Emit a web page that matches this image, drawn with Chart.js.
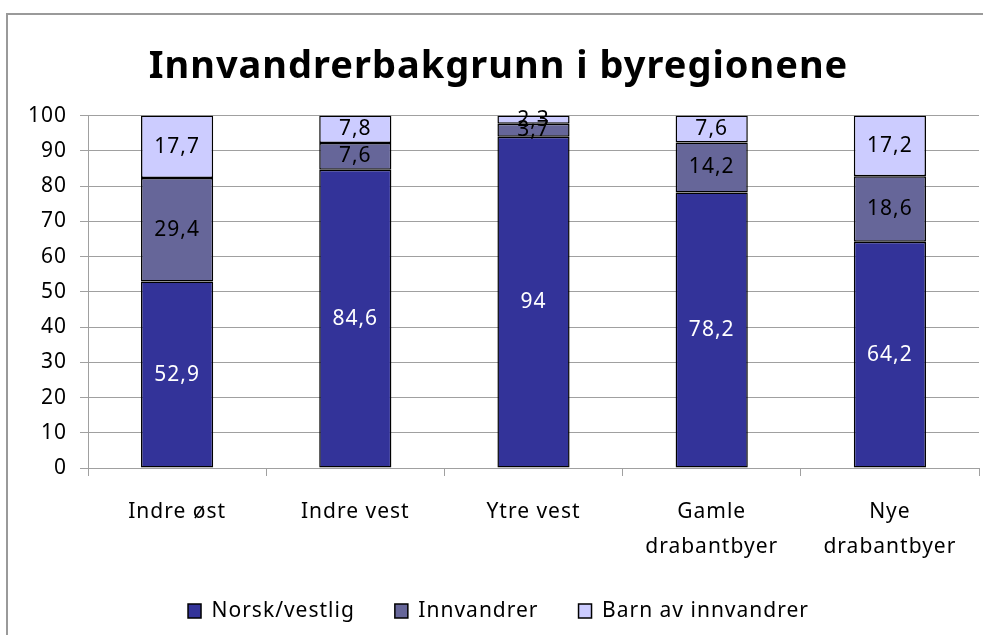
<!DOCTYPE html>
<html>
<head>
<meta charset="utf-8">
<script src="https://cdn.jsdelivr.net/npm/chart.js@4/dist/chart.umd.min.js"></script>
<style>
  html, body { margin: 0; padding: 0; background: #fff; overflow: hidden; }
  #frame { position: absolute; left: 6px; top: 13px; width: 1200px; height: 900px; border: 2px solid #9a9a9a; }
  #wrap { position: absolute; left: 0; top: 0; width: 983px; height: 635px; }
</style>
</head>
<body>
<div id="frame"></div>
<div id="wrap"><canvas id="chart" width="983" height="635"></canvas></div>
<script>
// data
const regions = [['Indre øst'], ['Indre vest'], ['Ytre vest'], ['Gamle', 'drabantbyer'], ['Nye', 'drabantbyer']];
const norsk      = [52.9, 84.6, 94, 78.2, 64.2];
const innvandrer = [29.4, 7.6, 3.7, 14.2, 18.6];
const barn       = [17.7, 7.8, 2.3, 7.6, 17.2];
const yTicks     = [0, 10, 20, 30, 40, 50, 60, 70, 80, 90, 100];

const FONT = "'Noto Sans', sans-serif";
const GRID = '#a0a0a0';

const fmt = v => String(v).replace('.', ',');

// the original text is a little spaced out (Calibri-ish rendering)
const spacing = {
  id: 'spacing',
  beforeUpdate(chart) { chart.ctx.letterSpacing = '1px'; },
  beforeDraw(chart) { chart.ctx.letterSpacing = '1px'; }
};

// labels in the middle of each stacked segment
const valueLabels = {
  id: 'valueLabels',
  afterDatasetsDraw(chart) {
    const ctx = chart.ctx;
    ctx.save();
    ctx.font = '21px ' + FONT;
    ctx.textAlign = 'center';
    ctx.textBaseline = 'middle';
    chart.data.datasets.forEach((ds, i) => {
      ctx.fillStyle = i === 0 ? '#ffffff' : '#000000';
      chart.getDatasetMeta(i).data.forEach((bar, j) => {
        const { x, y, base } = bar.getProps(['x', 'y', 'base'], true);
        ctx.fillText(fmt(ds.data[j]), x, (y + base) / 2);
      });
    });
    ctx.restore();
  }
};

new Chart(document.getElementById('chart').getContext('2d'), {
  type: 'bar',
  data: {
    labels: regions,
    datasets: [
      { label: 'Norsk/vestlig',      data: norsk,      backgroundColor: '#333399', borderColor: '#000000', borderWidth: 1.5, borderSkipped: false },
      { label: 'Innvandrer',         data: innvandrer, backgroundColor: '#666699', borderColor: '#000000', borderWidth: 1.5, borderSkipped: false },
      { label: 'Barn av innvandrer', data: barn,       backgroundColor: '#ccccff', borderColor: '#000000', borderWidth: 1.5, borderSkipped: false },
    ]
  },
  options: {
    responsive: false,
    animation: false,
    barPercentage: 0.81,
    categoryPercentage: 0.5,
    layout: { padding: { top: 0, left: 18, right: 4, bottom: 3.5 } },
    plugins: {
      title: {
        display: true,
        text: 'Innvandrerbakgrunn i byregionene',
        color: '#000',
        font: { family: FONT, size: 38, weight: 'bold', lineHeight: 1.2 },
        padding: { top: 44, bottom: 26 }
      },
      legend: {
        position: 'bottom',
        labels: {
          color: '#000',
          font: { family: FONT, size: 21 },
          boxWidth: 13, boxHeight: 14,
          padding: 40
        }
      },
      tooltip: { enabled: false }
    },
    scales: {
      x: {
        stacked: true,
        border: { color: GRID, width: 1 },
        grid: { drawOnChartArea: false, drawTicks: true, tickLength: 8, color: GRID, offset: true },
        ticks: { color: '#000', font: { family: FONT, size: 21, lineHeight: 1.67 }, padding: 18, maxRotation: 0 },
        afterFit: s => { s.height = 92.5; }
      },
      y: {
        stacked: true,
        min: 0, max: 100,
        afterBuildTicks: s => { s.ticks = yTicks.map(v => ({ value: v })); },
        border: { color: GRID, width: 1 },
        grid: { color: GRID, lineWidth: 1, tickLength: 8 },
        ticks: { color: '#000', font: { family: FONT, size: 21 }, padding: 13 },
        afterFit: s => { s.width = 70; }
      }
    }
  },
  plugins: [spacing, valueLabels]
});
</script>
</body>
</html>
